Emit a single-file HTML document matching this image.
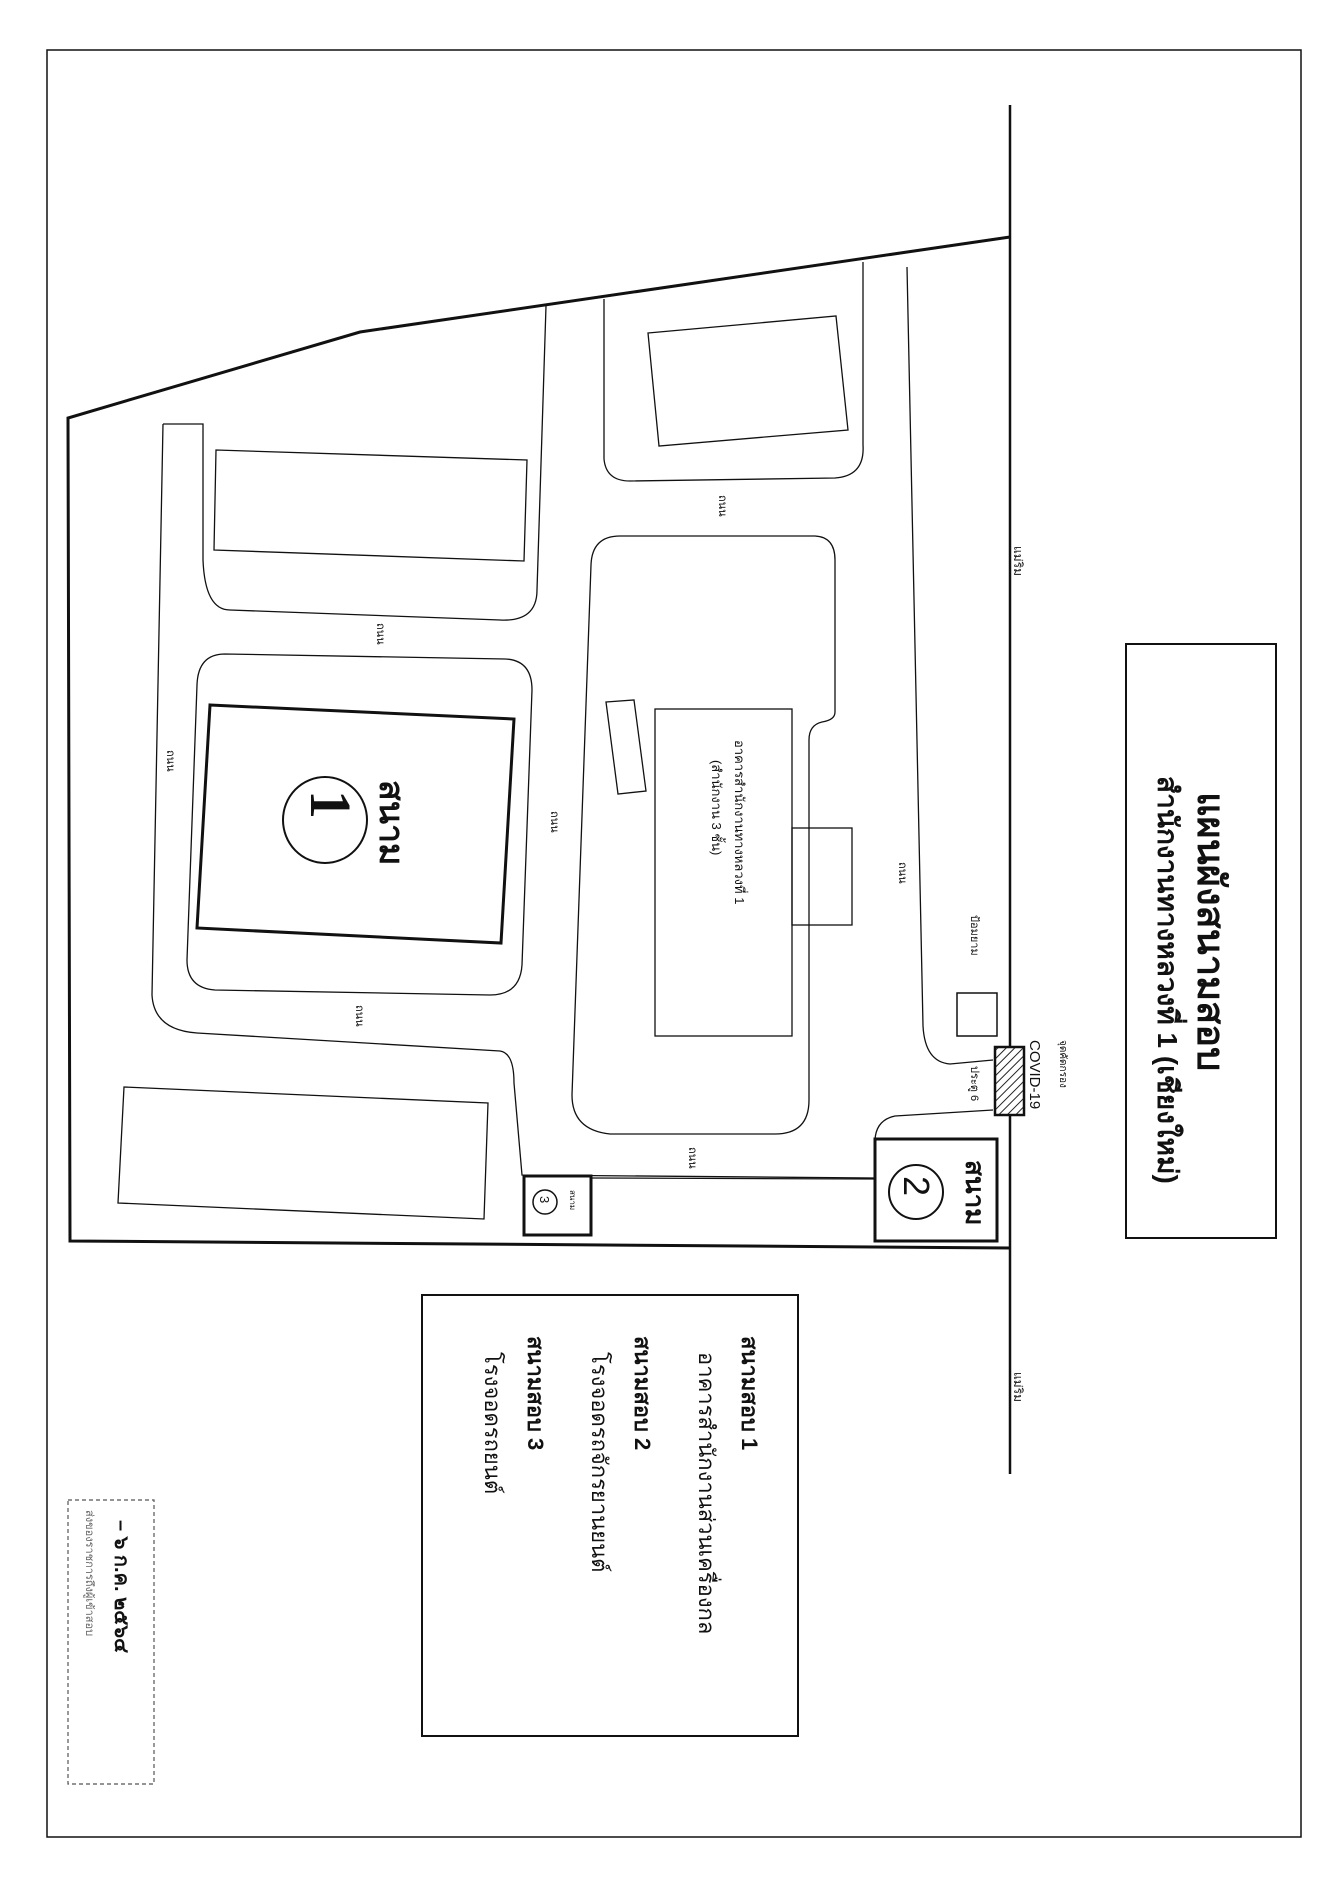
<!DOCTYPE html>
<html><head><meta charset="utf-8"><style>
html,body{margin:0;padding:0;background:#fff}
svg{display:block}
text{font-family:"Liberation Sans","DejaVu Sans",sans-serif;fill:#111}
</style></head><body>
<svg width="1342" height="1890" viewBox="0 0 1342 1890" xmlns="http://www.w3.org/2000/svg">
<defs>
<pattern id="h" width="6" height="6" patternUnits="userSpaceOnUse" patternTransform="rotate(45)">
<rect width="6" height="6" fill="#fff"/><line x1="0" y1="0" x2="0" y2="6" stroke="#222" stroke-width="2"/></pattern>
</defs>
<g fill="none" stroke="#111">
<rect x="47" y="50" width="1254" height="1787" stroke-width="1.5"/>
<line x1="1010" y1="105" x2="1010" y2="1474" stroke-width="2.5"/>
<polyline points="1010,237 360,332 68,418 70,1241 1010,1248" stroke-width="3"/>
<path d="M163,424 L152,995 Q154,1030 197,1033 L500,1051 Q514,1053 514,1083 L522,1175 L875,1178" stroke-width="1.3"/>
<path d="M163,424 L203,424 L203,560 Q205,610 230,610 L500,620 Q537,622 537,590 L546,306" stroke-width="1.3"/>
<polygon points="216,450 527,460 524,561 214,550" stroke-width="1.3"/>
<path d="M225,654 L505,659 Q532,660 532,690 L522,965 Q520,995 490,995 L215,990 Q187,988 187,960 L197,685 Q198,654 225,654 Z" stroke-width="1.3"/>
<polygon points="210,705 514,719 501,943 197,928" stroke-width="3"/>
<ellipse cx="325" cy="820" rx="42" ry="43" stroke-width="2"/>
<path d="M620,536 L815,536 Q835,537 835,560 L835,712 Q835,720 822,722 Q809,725 809,740 L809,1100 Q809,1134 775,1134 L610,1134 Q572,1130 572,1095 L591,565 Q592,536 620,536 Z" stroke-width="1.3"/>
<rect x="655" y="709" width="137" height="327" stroke-width="1.3"/>
<rect x="792" y="828" width="60" height="97" stroke-width="1.3"/>
<polygon points="606,702 634,700 646,791 618,794" stroke-width="1.3"/>
<path d="M604,299 L604,459 Q606,481 630,481 L835,478 Q865,476 863,445 L863,262" stroke-width="1.3"/>
<polygon points="648,333 836,316 848,430 659,446" stroke-width="1.3"/>
<path d="M907,267 L923,1026 Q925,1062 950,1064 L993,1060" stroke-width="1.3"/>
<path d="M993,1110 L895,1116 Q876,1120 875,1140" stroke-width="1.3"/>
<rect x="957" y="993" width="40" height="43" stroke-width="1.5"/>
<rect x="995" y="1047" width="29" height="68" fill="url(#h)" stroke-width="2.5"/>
<rect x="875" y="1139" width="122" height="102" stroke-width="3"/>
<ellipse cx="916" cy="1192" rx="27" ry="27" stroke-width="2"/>
<rect x="524" y="1176" width="67" height="59" stroke-width="3"/>
<circle cx="545" cy="1202" r="12" stroke-width="1.5"/>
<line x1="591" y1="1178" x2="875" y2="1179" stroke-width="1.3"/>
<polygon points="124,1087 488,1103 484,1219 118,1203" stroke-width="1.3"/>
<rect x="1126" y="644" width="150" height="594" stroke-width="2"/>
<rect x="422" y="1295" width="376" height="441" stroke-width="2"/>
<rect x="68" y="1500" width="86" height="284" stroke-width="1.2" stroke-dasharray="4,3" stroke="#555"/>
</g>
<g>
<text transform="translate(311,790) rotate(90)" font-size="58" style="font-family:'Liberation Serif',serif" font-weight="bold">1</text>
<text transform="translate(380,780) rotate(90)" font-size="34" font-weight="bold">สนาม</text>
<text transform="translate(904,1176) rotate(90)" font-size="36">2</text>
<text transform="translate(966,1160) rotate(90)" font-size="26" font-weight="bold">สนาม</text>
<text transform="translate(540,1196) rotate(90)" font-size="13">3</text>
<text transform="translate(570,1190) rotate(90)" font-size="8">สนาม</text>
<text transform="translate(1198,792) rotate(90)" font-size="38" font-weight="bold">แผนผังสนามสอบ</text>
<text transform="translate(1158,776) rotate(90)" font-size="28" font-weight="bold">สำนักงานทางหลวงที่ 1 (เชียงใหม่)</text>
<text transform="translate(742,1336) rotate(90)" font-size="22" font-weight="bold">สนามสอบ 1</text>
<text transform="translate(699,1352) rotate(90)" font-size="22">อาคารสำนักงานส่วนเครื่องกล</text>
<text transform="translate(635,1336) rotate(90)" font-size="22" font-weight="bold">สนามสอบ 2</text>
<text transform="translate(592,1352) rotate(90)" font-size="22">โรงจอดรถจักรยานยนต์</text>
<text transform="translate(528,1336) rotate(90)" font-size="22" font-weight="bold">สนามสอบ 3</text>
<text transform="translate(485,1352) rotate(90)" font-size="22">โรงจอดรถยนต์</text>
<text transform="translate(735,740) rotate(90)" font-size="13">อาคารสำนักงานทางหลวงที่ 1</text>
<text transform="translate(712,760) rotate(90)" font-size="13">(สำนักงาน 3 ชั้น)</text>
<g font-size="11">
<text transform="translate(719,495) rotate(90)">ถนน</text>
<text transform="translate(377,623) rotate(90)">ถนน</text>
<text transform="translate(167,750) rotate(90)">ถนน</text>
<text transform="translate(551,811) rotate(90)">ถนน</text>
<text transform="translate(899,862) rotate(90)">ถนน</text>
<text transform="translate(356,1005) rotate(90)">ถนน</text>
<text transform="translate(689,1147) rotate(90)">ถนน</text>
<text transform="translate(1014,546) rotate(90)" font-size="12">แม่ริม</text>
<text transform="translate(1014,1372) rotate(90)" font-size="12">แม่ริม</text>
<text transform="translate(971,915) rotate(90)">ป้อมยาม</text>
<text transform="translate(971,1066) rotate(90)">ประตู 6</text>
<text transform="translate(1060,1040) rotate(90)" font-size="10">จุดคัดกรอง</text>
<text transform="translate(1030,1040) rotate(90)" font-size="15">COVID-19</text>
<text transform="translate(86,1510) rotate(90)" font-size="11" style="fill:#666">ส่งของราชการถึงผู้เข้าสอบ</text>
<text transform="translate(115,1520) rotate(90)" font-size="20" font-weight="bold">– ๖ ก.ค. ๒๕๖๔</text>
</g>
</g>
</svg>
</body></html>
